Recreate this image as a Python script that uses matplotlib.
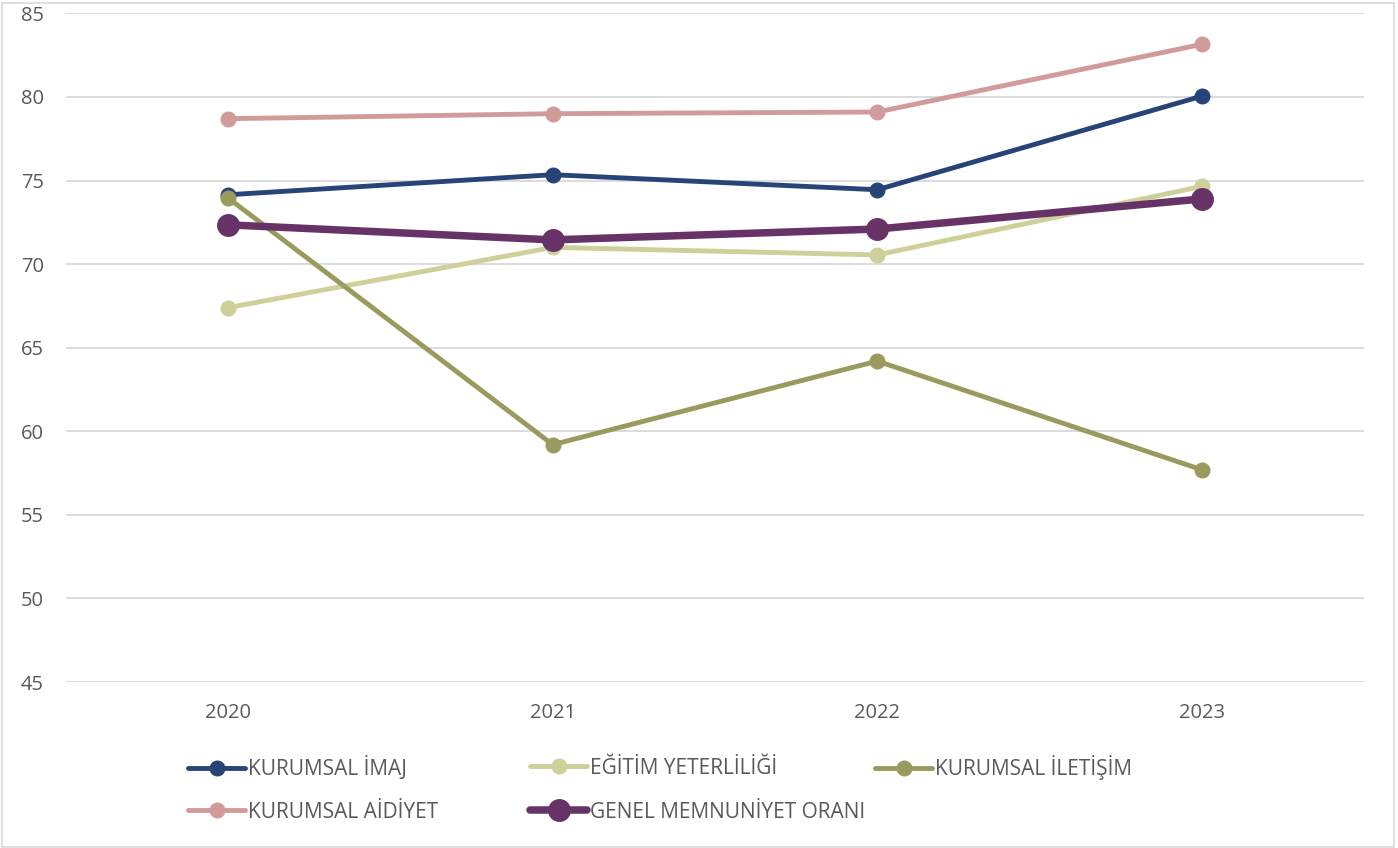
import matplotlib
matplotlib.use("Agg")
import matplotlib.pyplot as plt
from matplotlib.patches import Rectangle

plt.rcParams['font.family'] = ['Open Sans', 'DejaVu Sans']

years = ["2020", "2021", "2022", "2023"]
kurumsal_imaj = [74.15, 75.35, 74.45, 80.05]
egitim_yeterliligi = [67.4, 71.0, 70.55, 74.65]
kurumsal_iletisim = [73.95, 59.2, 64.2, 57.7]
kurumsal_aidiyet = [78.7, 79.0, 79.1, 83.15]
genel_memnuniyet = [72.35, 71.45, 72.1, 73.9]

series = [
    ("KURUMSAL İMAJ", kurumsal_imaj, "#264478", 3.5, 10.5),
    ("EĞİTİM YETERLİLİĞİ", egitim_yeterliligi, "#CFCF99", 3.5, 10.5),
    ("KURUMSAL İLETİŞİM", kurumsal_iletisim, "#9A9A5F", 3.5, 10.5),
    ("KURUMSAL AİDİYET", kurumsal_aidiyet, "#D09B99", 3.5, 10.5),
    ("GENEL MEMNUNİYET ORANI", genel_memnuniyet, "#673366", 5.4, 15.5),
]

W, H = 1398, 848
fig = plt.figure(figsize=(W / 100, H / 100), dpi=100)
ax = fig.add_axes([66 / W, 1 - 682 / H, (1364 - 66) / W, (682 - 13.4) / H])

x = list(range(len(years)))
handles = {}
for name, vals, col, lw, ms in series:
    h, = ax.plot(x, vals, color=col, lw=lw, marker='o', ms=ms,
                 solid_capstyle='round', label=name, zorder=3)
    handles[name] = h

ax.set_xlim(-0.5, 3.5)
ax.set_ylim(45, 85)
ax.set_yticks(range(45, 86, 5))
ax.set_xticks(x)
ax.set_xticklabels(years)
ax.tick_params(axis='both', length=0, labelsize=14.5, labelcolor="#595959")
ax.tick_params(axis='x', pad=15)
ax.tick_params(axis='y', pad=16)
ax.grid(axis='y', color="#D9D9D9", lw=1.3)
ax.set_axisbelow(True)
for s in ax.spines.values():
    s.set_visible(False)

entries = [
    ("KURUMSAL İMAJ", 188, 768),
    ("EĞİTİM YETERLİLİĞİ", 530, 768),
    ("KURUMSAL İLETİŞİM", 875, 768),
    ("KURUMSAL AİDİYET", 188, 812),
    ("GENEL MEMNUNİYET ORANI", 530, 812),
]
for name, xpx, ypx in entries:
    fig.legend([handles[name]], [name],
               loc='center left', bbox_to_anchor=(xpx / W, 1 - ypx / H),
               frameon=False, fontsize=15, labelcolor="#595959",
               handlelength=2.75, handletextpad=0.12, borderpad=0,
               borderaxespad=0)

fig.add_artist(Rectangle((1.5 / W, 1.5 / H), (W - 6) / W, (H - 4) / H,
                         transform=fig.transFigure, fill=False,
                         edgecolor="#D9D9D9", lw=1.2))

fig.savefig("out.png", dpi=100)
